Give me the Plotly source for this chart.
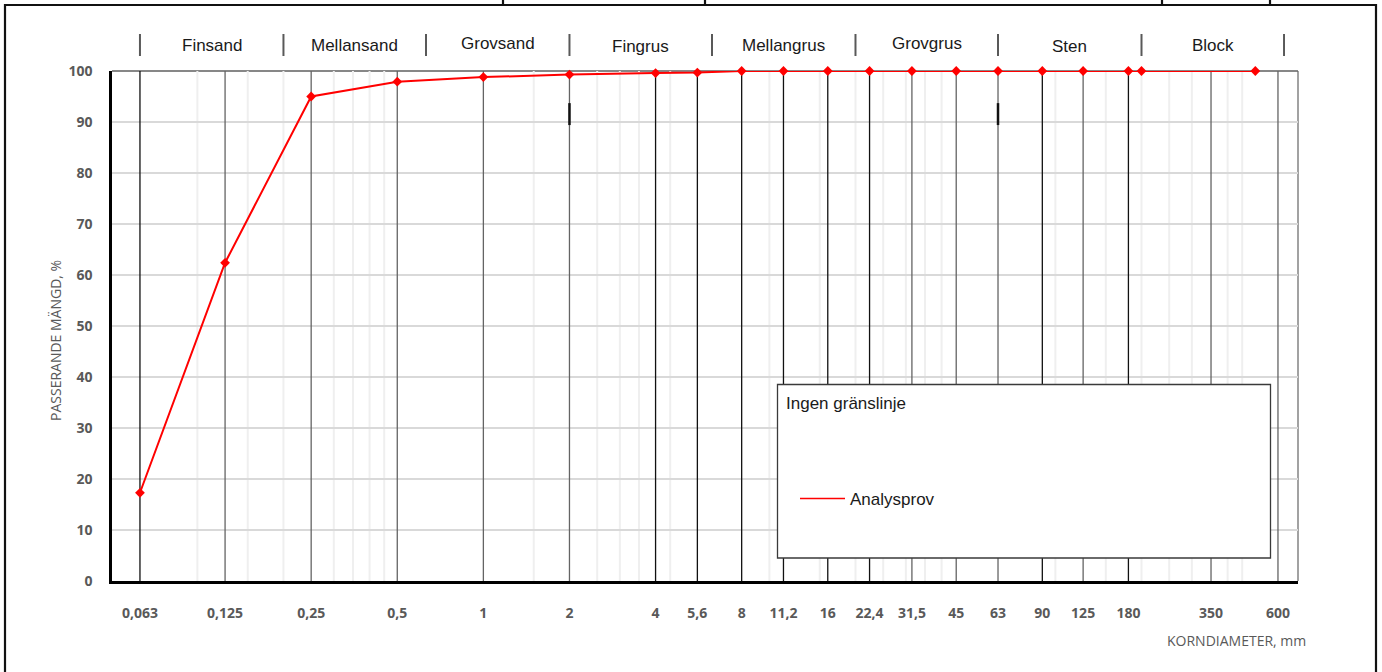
import math
import plotly.graph_objects as go

# ---- Sieve analysis data: grain size (mm) and cumulative passing (%) ----
sieve_mm = [0.063, 0.125, 0.25, 0.5, 1, 2, 4, 5.6, 8, 11.2, 16, 22.4, 31.5,
            45, 63, 90, 125, 180, 200, 500]
passing_pct = [17.3, 62.4, 95.0, 97.9, 98.8, 99.3, 99.6, 99.7, 100, 100, 100,
               100, 100, 100, 100, 100, 100, 100, 100, 100]

# ---- Axis tick values and their labels ----
tick_mm = [0.063, 0.125, 0.25, 0.5, 1, 2, 4, 5.6, 8, 11.2, 16, 22.4, 31.5,
           45, 63, 90, 125, 180, 350, 600]
tick_text = ["0,063", "0,125", "0,25", "0,5", "1", "2", "4", "5,6", "8",
             "11,2", "16", "22,4", "31,5", "45", "63", "90", "125", "180",
             "350", "600"]
dark_sieves = [0.063, 4, 5.6, 8, 11.2, 16, 22.4, 90, 180]
light_sieves = [0.1, 0.15, 0.2, 0.3, 0.35, 0.4, 0.45, 1.5, 2.5, 3, 3.5, 4.5,
                10, 15, 20, 25, 30, 35, 40, 100, 150, 200, 250, 300, 400, 450]
marked_sieves = [2, 63]

# ---- Soil fractions (Swedish classification) ----
fraction_names = ["Finsand", "Mellansand", "Grovsand", "Fingrus",
                  "Mellangrus", "Grovgrus", "Sten", "Block"]
fraction_limits = [0.063, 0.2, 0.63, 2, 6.3, 20, 63, 200, 630]

# ---- Page geometry ----
W, H = 1382, 672
M = dict(l=112, r=84, t=71, b=91)


def xp(px):
    return (px - M["l"]) / (W - M["l"] - M["r"])


def yp(py):
    return (H - M["b"] - py) / (H - M["t"] - M["b"])


GREY_TXT = "#595959"
TICK_FONT = dict(family="Open Sans", size=14, color=GREY_TXT, weight="bold")
LABEL_FONT = dict(family="Liberation Sans", size=17, color="#1a1a1a")

fig = go.Figure()

fig.add_trace(go.Scatter(
    x=sieve_mm, y=passing_pct, mode="lines+markers",
    line=dict(color="#ff0000", width=2),
    marker=dict(symbol="diamond", size=7.5, color="#ff0000"),
    cliponaxis=False, showlegend=False, name="Analysprov",
))
# legend entry (line only)
fig.add_trace(go.Scatter(
    x=[None], y=[None], mode="lines", name="Analysprov",
    line=dict(color="#ff0000", width=1.5), showlegend=True,
))

shapes = []
# light intermediate sieve lines
for v in light_sieves:
    shapes.append(dict(type="line", xref="x", yref="y", x0=v, x1=v, y0=0, y1=100,
                       line=dict(color="#efefef", width=2), layer="below"))
# standard sieve lines
for v in tick_mm:
    col = "#111111" if v in dark_sieves else "#646464"
    shapes.append(dict(type="line", xref="x", yref="y", x0=v, x1=v, y0=0, y1=100,
                       line=dict(color=col, width=1.3), layer="between"))
for v in marked_sieves:
    shapes.append(dict(type="line", xref="x", yref="y", x0=v, x1=v, y0=89.4, y1=93.7,
                       line=dict(color="#111111", width=2.5), layer="between"))
# top and right border of plot area
shapes.append(dict(type="line", xref="paper", yref="paper", x0=0, x1=1, y0=1, y1=1,
                   line=dict(color="#111111", width=1.2), layer="between"))
shapes.append(dict(type="line", xref="paper", yref="paper", x0=1, x1=1, y0=0, y1=1,
                   line=dict(color="#646464", width=1.2), layer="between"))

# fraction header separators
for v in fraction_limits:
    shapes.append(dict(type="line", xref="x", yref="paper", x0=v, x1=v,
                       y0=yp(56), y1=yp(34), line=dict(color=GREY_TXT, width=2)))

# legend box
shapes.append(dict(type="rect", xref="paper", yref="paper",
                   x0=xp(777.5), x1=xp(1270.5), y0=yp(558), y1=yp(384.5),
                   fillcolor="white", line=dict(color="#3a3a3a", width=1.3),
                   layer="above"))

# page frame
shapes.append(dict(type="rect", xref="paper", yref="paper",
                   x0=xp(5), x1=xp(1376), y0=yp(720), y1=yp(5),
                   line=dict(color="#111111", width=2.2)))
for px in [503, 705, 1162, 1270]:
    shapes.append(dict(type="line", xref="paper", yref="paper",
                       x0=xp(px), x1=xp(px), y0=yp(5), y1=yp(-10),
                       line=dict(color="#111111", width=2.2)))

annotations = []
header_y = [46, 46, 44, 47, 46, 44, 47, 46]
for i, name in enumerate(fraction_names):
    # annotation x on a log axis is given in log10 units
    mid_log = (math.log10(fraction_limits[i]) + math.log10(fraction_limits[i + 1])) / 2
    annotations.append(dict(text=name, x=mid_log, xref="x", y=yp(header_y[i]), yref="paper",
                            xanchor="center", yanchor="middle", showarrow=False,
                            font=LABEL_FONT))

annotations.append(dict(text="Ingen gränslinje", x=xp(784), y=yp(403),
                        xref="paper", yref="paper", xanchor="left", yanchor="middle",
                        showarrow=False, font=LABEL_FONT))
annotations.append(dict(text="PASSERANDE MÄNGD, %", x=xp(55), y=yp(341),
                        xref="paper", yref="paper", xanchor="center", yanchor="middle",
                        textangle=-90, showarrow=False,
                        font=dict(family="Open Sans", size=14, color=GREY_TXT)))
annotations.append(dict(text="KORNDIAMETER, mm", x=xp(1236), y=yp(640),
                        xref="paper", yref="paper", xanchor="center", yanchor="middle",
                        showarrow=False,
                        font=dict(family="Open Sans", size=14, color=GREY_TXT)))

fig.update_layout(
    width=W, height=H,
    margin=M,
    paper_bgcolor="white", plot_bgcolor="white",
    shapes=shapes, annotations=annotations,
    showlegend=True,
    legend=dict(x=xp(795), y=yp(499), xanchor="left", yanchor="middle",
                bgcolor="rgba(0,0,0,0)", borderwidth=0, font=LABEL_FONT,
                itemwidth=45),
    xaxis=dict(
        type="log",
        range=[math.log10(0.0503), math.log10(705)],
        tickmode="array", tickvals=tick_mm, ticktext=tick_text,
        showgrid=False, zeroline=False,
        showline=True, linecolor="#000000", linewidth=3,
        ticks="", ticklabelstandoff=17,
        tickfont=TICK_FONT,
    ),
    yaxis=dict(
        range=[0, 100], dtick=10, tick0=0,
        showgrid=True, gridcolor="#d9d9d9", gridwidth=2,
        zeroline=False,
        showline=True, linecolor="#000000", linewidth=2.5,
        ticks="", ticklabelstandoff=14,
        tickfont=TICK_FONT,
    ),
)

fig.write_html("out.html")
